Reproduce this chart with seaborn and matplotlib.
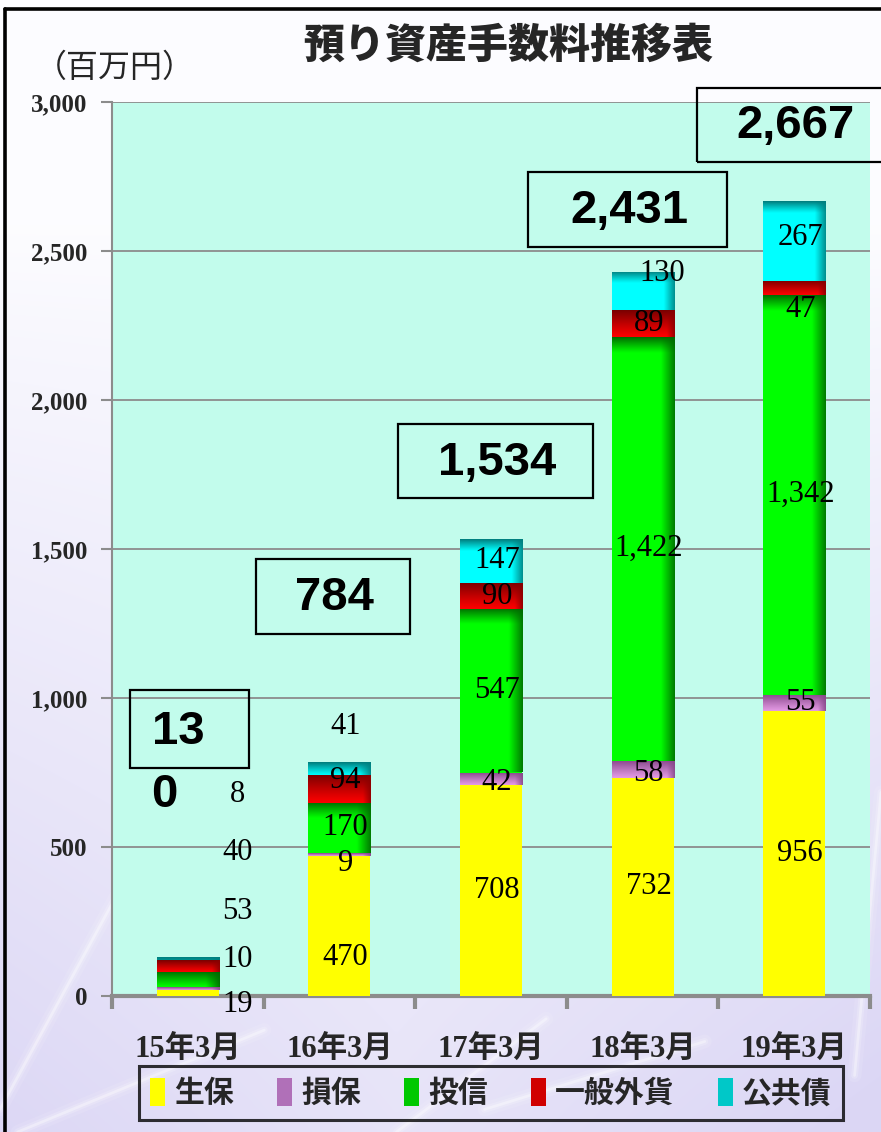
import numpy as np
import pandas as pd
import matplotlib
matplotlib.use("Agg")
import matplotlib.pyplot as plt
import seaborn as sns
from matplotlib.patches import Rectangle, Patch
from matplotlib.lines import Line2D
from matplotlib.colors import to_rgb
from matplotlib.font_manager import FontProperties

# ---- data (百万円) ----
categories = ["15年3月", "16年3月", "17年3月", "18年3月", "19年3月"]
series_names = ["生保", "損保", "投信", "一般外貨", "公共債"]
seiho = [19, 470, 708, 732, 956]
sonpo = [10, 9, 42, 58, 55]
toushin = [53, 170, 547, 1422, 1342]
gaika = [40, 94, 90, 89, 47]
koukyousai = [8, 41, 147, 130, 267]
totals = [130, 784, 1534, 2431, 2667]
y_ticks = [0, 500, 1000, 1500, 2000, 2500, 3000]

title = "預り資産手数料推移表"
unit_label = "（百万円）"

# ---- styling ----
W_PX, H_PX = 881, 1132
AX_L, AX_R, AX_T, AX_B = 112, 870, 102, 996
YMAX = 3000
BAR_W = 0.41
GRID = "#8C8C8C"

shade_specs = {
    "生保": dict(base="#FFFF00"),
    "損保": dict(base="#E49AE4", top="#87478A", top_px=None, right="#87478A", right_px=8),
    "投信": dict(base="#00FF00", top="#006A00", top_px=16, right="#006A00", right_px=14),
    "一般外貨": dict(base="#FF0000", top="#780000", top_px=None, right="#8A0000", right_px=8),
    "公共債": dict(base="#00FFFF", top="#007A7A", top_px=12, right="#007F7F", right_px=11),
}
legend_colors = ["#FFFF00", "#B070B8", "#00C800", "#D00000", "#00C8C8"]

sns.set_theme(style="white")
plt.rcParams["font.family"] = ["Liberation Serif", "Noto Sans CJK JP"]

fig = plt.figure(figsize=(W_PX / 100, H_PX / 100), dpi=100)

# ---- lavender backdrop with soft light streaks ----
bg = fig.add_axes([0, 0, 1, 1], zorder=-10)
gy, gx = np.mgrid[0:1:300j, 0:1:300j]
t = np.clip((gy - 0.2) / 0.8, 0, 1) ** 0.9
t = np.clip(t * (0.65 + 0.35 * np.abs(gx - 0.45) * 2), 0, 1)
white = np.array([0.99, 0.99, 1.0])
lav = np.array([0.86, 0.84, 0.96])
bg_img = white * (1 - t[..., None]) + lav * t[..., None]
bg.imshow(bg_img, extent=(0, 1, 0, 1), origin="upper", aspect="auto",
          interpolation="bilinear")
for (x0, y0, x1, y1) in [(0.0, 0.02, 0.14, 0.22), (0.02, 0.0, 0.30, 0.09),
                         (0.45, 0.0, 0.62, 0.10), (0.97, 0.05, 1.0, 0.30),
                         (0.55, 0.02, 0.80, 0.08)]:
    for lw, a in [(10, 0.10), (5, 0.18), (2, 0.35)]:
        bg.plot([x0, x1], [y0, y1], color="white", lw=lw, alpha=a,
                solid_capstyle="round")
bg.set_xlim(0, 1)
bg.set_ylim(0, 1)
bg.axis("off")

# outer frame lines (top and left)
fig.add_artist(Line2D([5 / W_PX, 1], [1 - 9 / H_PX, 1 - 9 / H_PX],
                      color="black", lw=2.6, transform=fig.transFigure))
fig.add_artist(Line2D([5 / W_PX, 5 / W_PX], [0, 1 - 9 / H_PX],
                      color="black", lw=2.6, transform=fig.transFigure))

# ---- plotting axes ----
ax = fig.add_axes([AX_L / W_PX, 1 - AX_B / H_PX,
                   (AX_R - AX_L) / W_PX, (AX_B - AX_T) / H_PX])
ax.set_facecolor("#C2FCEC")

px_x = (AX_R - AX_L) / len(categories)
px_y = (AX_B - AX_T) / YMAX

layers = [("生保", seiho), ("損保", sonpo), ("投信", toushin),
          ("一般外貨", gaika), ("公共債", koukyousai)]

bottom = np.zeros(len(categories))
seg_patches = {}
for name, vals in layers:
    n0 = len(ax.patches)
    sns.barplot(x=categories, y=vals, bottom=bottom, order=categories,
                color=shade_specs[name]["base"], saturation=1, width=BAR_W,
                errorbar=None, linewidth=0, edgecolor="none", ax=ax, zorder=3)
    seg_patches[name] = ax.patches[n0:]
    bottom = bottom + np.array(vals)


def shade(p, spec):
    x0, y0 = p.get_x(), p.get_y()
    w, h = p.get_width(), p.get_height()
    Wp = max(int(round(w * px_x)), 2)
    Hp = max(int(round(h * px_y)), 2)
    yy = (np.arange(Hp)[:, None] + 0.5)
    xx = (np.arange(Wp)[None, :] + 0.5)
    img = np.ones((Hp, Wp, 3)) * np.array(to_rgb(spec["base"]))
    if "top" in spec:
        tp = spec["top_px"] if spec["top_px"] else Hp
        f = np.clip(1 - yy / tp, 0, 1) ** 1.1
        f = np.broadcast_to(f, (Hp, Wp))[..., None]
        img = img * (1 - f) + np.array(to_rgb(spec["top"])) * f
    if "right" in spec:
        f = np.clip(1 - (Wp - xx) / spec["right_px"], 0, 1) * 0.9
        f = np.broadcast_to(f, (Hp, Wp))[..., None]
        img = img * (1 - f) + np.array(to_rgb(spec["right"])) * f
    im = ax.imshow(img, extent=(x0, x0 + w, y0, y0 + h), origin="upper",
                   aspect="auto", interpolation="bilinear", zorder=3.5)
    im.set_clip_path(p)


for name, _ in layers:
    if len(shade_specs[name]) > 1:
        for p in seg_patches[name]:
            shade(p, shade_specs[name])

# ---- axes cosmetics ----
ax.set_xlim(-0.5, len(categories) - 0.5)
ax.set_ylim(0, YMAX)
ax.set_axisbelow(True)
ax.yaxis.grid(True, color=GRID, lw=1.3)
ax.xaxis.grid(False)
for s in ["top", "right"]:
    ax.spines[s].set_visible(False)
ax.spines["left"].set_color(GRID)
ax.spines["left"].set_linewidth(1.5)
ax.spines["bottom"].set_color(GRID)
ax.spines["bottom"].set_linewidth(3)
ax.set_xlabel("")
ax.set_ylabel("")

ax.set_yticks(y_ticks)
ax.set_yticklabels([f"{v:,}" for v in y_ticks], fontweight="bold",
                   fontsize=18, family="Liberation Serif")
ax.tick_params(axis="y", length=8, width=1.5, color=GRID, pad=10, left=True)

ax.set_xticks(np.arange(-0.5, len(categories), 1.0))
ax.set_xticklabels([])
ax.tick_params(axis="x", which="major", length=9, width=3, color=GRID,
               direction="out", bottom=True)
ax.set_xticks(range(len(categories)), minor=True)
ax.set_xticklabels(categories, minor=True, fontweight="bold", fontsize=22)
ax.tick_params(axis="x", which="minor", length=0, pad=28)

# ---- segment value labels ----
label_font = dict(family="Liberation Serif", fontsize=22, color="black",
                  ha="center", va="center", zorder=6)
# first column labels sit beside the short bar, stacked upward
first_col_label_y = [-30, 121, 282, 483, 675]
y_offsets = {
    ("生保", 1): -107, ("損保", 1): -30, ("一般外貨", 1): 27, ("公共債", 1): 140,
    ("損保", 2): -13, ("損保", 3): -13, ("公共債", 3): 60,
    ("一般外貨", 4): -74, ("公共債", 4): 13,
}
x_offsets = {("公共債", 3): 0.09}
bottom = np.zeros(len(categories))
for k, (name, vals) in enumerate(layers):
    for i, v in enumerate(vals):
        if i == 0:
            ax.text(i + 0.33, first_col_label_y[k], f"{v:,}", clip_on=False,
                    **label_font)
        else:
            yc = bottom[i] + v / 2 + y_offsets.get((name, i), 0)
            xc = i + 0.04 + x_offsets.get((name, i), 0)
            ax.text(xc, yc, f"{v:,}", **label_font)
    bottom = bottom + np.array(vals)

# ---- total boxes ----
box_cx = [0.01, 0.96, 2.03, 2.90, 4.00]
box_cy = [896, 1339, 1795, 2638, 2923]
box_wpx = [119, 154, 195, 199, 195]
box_hpx = [78, 75, 74, 75, 74]
tot_font = dict(family="Liberation Sans", fontweight="bold", fontsize=34,
                color="black", ha="center", va="center", zorder=6)
for i, tot in enumerate(totals):
    bw, bh = box_wpx[i] / px_x, box_hpx[i] / px_y
    ax.add_patch(Rectangle((box_cx[i] - bw / 2, box_cy[i] - bh / 2), bw, bh,
                           fill=False, ec="black", lw=1.6, zorder=6,
                           clip_on=False))
    txt = f"{tot:,}"
    if i == 0:
        # narrow box: last digit wraps to the next line
        ax.text(-0.065, 886, txt[:-1], **tot_font)
        ax.text(-0.157, 675, txt[-1:], **tot_font)
    else:
        ax.text(box_cx[i] + 0.01, box_cy[i] - 5, txt, clip_on=False, **tot_font)

# ---- title & unit ----
fig.text(508 / W_PX, 1 - 46 / H_PX, title, ha="center", va="center",
         family="Noto Sans CJK JP", fontweight="heavy", fontsize=29.5)
fig.text(115 / W_PX, 1 - 68 / H_PX, unit_label, ha="center", va="center",
         family="Noto Sans CJK JP", fontsize=23)

# ---- legend ----
handles = [Patch(facecolor=c, edgecolor="none") for c in legend_colors]
leg = fig.legend(handles, series_names, loc="center",
                 bbox_to_anchor=(491 / W_PX, 1 - 1093 / H_PX), ncol=5,
                 frameon=True, fancybox=False, edgecolor="black",
                 facecolor="none", handlelength=0.5, handleheight=1.1,
                 handletextpad=0.3, columnspacing=1.45, borderpad=0.4,
                 prop=FontProperties(family="Noto Sans CJK JP",
                                     weight="bold", size=21.5))
leg.get_frame().set_linewidth(2.2)

fig.savefig("out.png", dpi=100)
